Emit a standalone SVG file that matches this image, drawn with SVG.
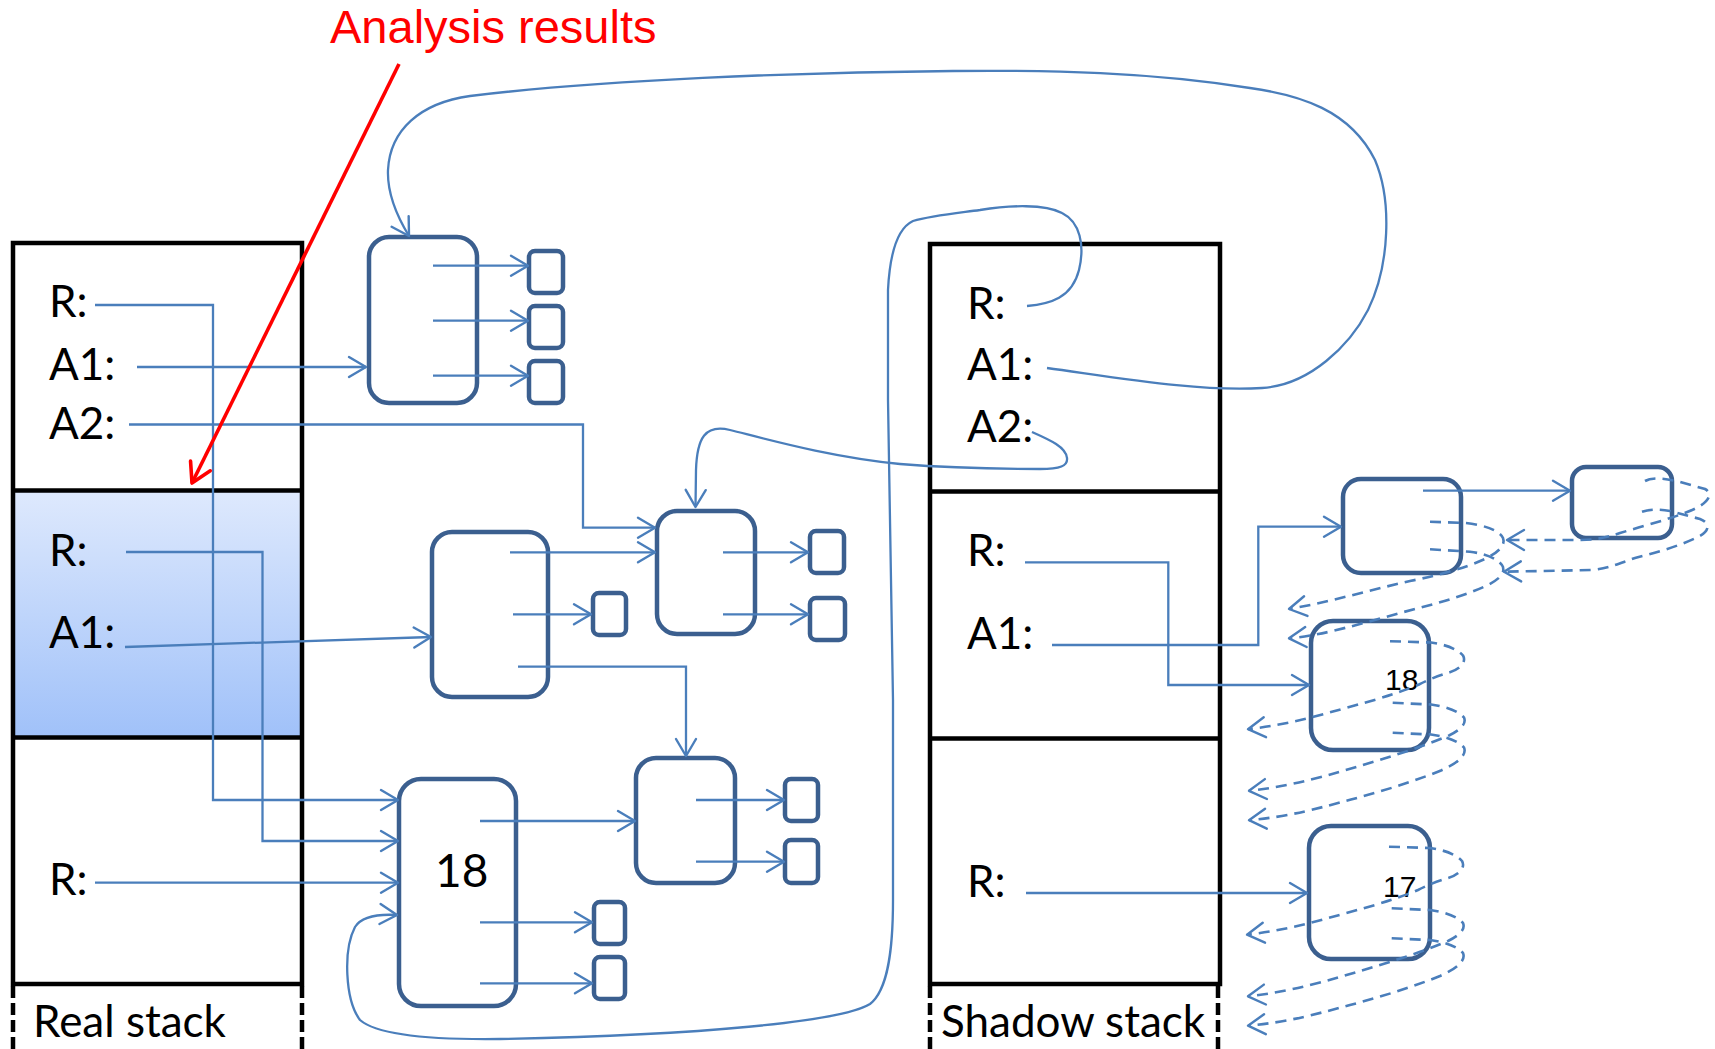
<svg xmlns="http://www.w3.org/2000/svg" width="1715" height="1049" viewBox="0 0 1715 1049">
  <defs>
    <style>
      .frame { fill: none; stroke: #000; stroke-width: 4.5; }
      .tag { fill: none; stroke: #000; stroke-width: 4.5; stroke-dasharray: 12 5; }
      .lbl { font-family: Lato, "Liberation Sans", sans-serif; font-size: 44px; fill: #000; }
      .num { font-family: "Liberation Sans", Arial, sans-serif; font-size: 30px; fill: #000; }
      .node rect { fill: #fff; stroke: #3B5F8F; stroke-width: 4.5; }
      .link { fill: none; stroke: #4A7EBB; stroke-width: 2.3; marker-end: url(#arr); }
      .curve { fill: none; stroke: #4A7EBB; stroke-width: 2.3; }
      .dash { fill: none; stroke: #4A7EBB; stroke-width: 2.6; stroke-dasharray: 11 7; marker-end: url(#arr); }
    </style>
    <linearGradient id="frameFill" x1="0" y1="0" x2="0" y2="1">
      <stop offset="0" stop-color="#DEE9FD"/>
      <stop offset="1" stop-color="#A0C1F9"/>
    </linearGradient>
    <marker id="arr" markerUnits="userSpaceOnUse" markerWidth="24" markerHeight="26" refX="19" refY="12" orient="auto">
      <path d="M2,2 L19,12 L2,22" fill="none" stroke="#4A7EBB" stroke-width="2.4" stroke-linecap="round" stroke-linejoin="round"/>
    </marker>
    <marker id="redArr" markerUnits="userSpaceOnUse" markerWidth="28" markerHeight="28" refX="23" refY="13" orient="auto">
      <path d="M4,2 L23,13 L4,24" fill="none" stroke="#FF0000" stroke-width="3.6" stroke-linecap="round" stroke-linejoin="round"/>
    </marker>
    <!-- three dashed back-pointer loops leaving a right-hand node -->
    <g id="loops">
      <path class="dash" d="M1389,846.7 L1430,848 C1445,850 1457,855 1462,861 C1466,868 1458,875 1448,878 C1438,881 1428,885 1418,890 C1390,902 1350,912 1310,923 C1290,928 1270,932 1247,934.7"/>
      <path class="dash" d="M1391.7,908.3 L1430,910 C1445,912 1458,917 1463,923 C1466,930 1458,936 1448,941 C1420,953 1390,962 1360,971 C1330,980 1290,992 1248,996.3"/>
      <path class="dash" d="M1391.7,938.3 L1430,940 C1445,942 1458,947 1463,953 C1466,960 1458,968 1440,976 C1410,988 1380,997 1350,1005 C1320,1013 1290,1022 1248,1025.7"/>
    </g>
  </defs>

  <rect width="1715" height="1049" fill="#fff"/>

  <!-- Real stack -->
  <g id="real-stack">
    <rect x="13" y="490.5" width="289" height="247" fill="url(#frameFill)"/>
    <rect class="frame" x="13" y="243" width="289" height="741"/>
    <line class="frame" x1="13" y1="490.5" x2="302" y2="490.5"/>
    <line class="frame" x1="13" y1="737.5" x2="302" y2="737.5"/>
    <line class="tag" x1="13" y1="986" x2="13" y2="1049"/>
    <line class="tag" x1="302" y1="986" x2="302" y2="1049"/>
    <text class="lbl" x="49" y="317">R:</text>
    <text class="lbl" x="49" y="380">A1:</text>
    <text class="lbl" x="49" y="439">A2:</text>
    <text class="lbl" x="49" y="566">R:</text>
    <text class="lbl" x="49" y="648">A1:</text>
    <text class="lbl" x="49" y="895">R:</text>
    <text class="lbl" x="33" y="1037">Real stack</text>
  </g>

  <!-- Shadow stack -->
  <g id="shadow-stack">
    <rect class="frame" x="930" y="244" width="290" height="740"/>
    <line class="frame" x1="930" y1="491.5" x2="1220" y2="491.5"/>
    <line class="frame" x1="930" y1="738.5" x2="1220" y2="738.5"/>
    <line class="tag" x1="930" y1="986" x2="930" y2="1049"/>
    <line class="tag" x1="1218" y1="986" x2="1218" y2="1049"/>
    <text class="lbl" x="967" y="319">R:</text>
    <text class="lbl" x="967" y="380">A1:</text>
    <text class="lbl" x="967" y="442">A2:</text>
    <text class="lbl" x="967" y="566">R:</text>
    <text class="lbl" x="967" y="649">A1:</text>
    <text class="lbl" x="967" y="897">R:</text>
    <text class="lbl" x="941" y="1037">Shadow stack</text>
  </g>

  <!-- heap objects -->
  <g id="obj1" class="node"><rect x="369" y="237" width="108" height="166" rx="20"/></g>
  <g id="obj1-f1" class="node"><rect x="529" y="251" width="34" height="42" rx="6"/></g>
  <g id="obj1-f2" class="node"><rect x="529" y="306" width="34" height="42" rx="6"/></g>
  <g id="obj1-f3" class="node"><rect x="529" y="361" width="34" height="42" rx="6"/></g>

  <g id="obj2" class="node"><rect x="432" y="532" width="116" height="165" rx="20"/></g>
  <g id="obj2-f" class="node"><rect x="593" y="593" width="33" height="42" rx="6"/></g>

  <g id="obj3" class="node"><rect x="657" y="511" width="98" height="123" rx="20"/></g>
  <g id="obj3-f1" class="node"><rect x="810" y="531" width="34" height="42" rx="6"/></g>
  <g id="obj3-f2" class="node"><rect x="810" y="598" width="35" height="42" rx="6"/></g>

  <g id="obj18" class="node">
    <rect x="399" y="779" width="117" height="227" rx="22"/>
    <text x="435" y="887" font-family="Lato, 'Liberation Sans', sans-serif" font-size="46" fill="#000">18</text>
  </g>
  <g id="obj18-f1" class="node"><rect x="594" y="902" width="31" height="42" rx="6"/></g>
  <g id="obj18-f2" class="node"><rect x="594" y="957" width="31" height="42" rx="6"/></g>

  <g id="obj4" class="node"><rect x="636" y="758" width="99" height="125" rx="20"/></g>
  <g id="obj4-f1" class="node"><rect x="785" y="779" width="33" height="42" rx="6"/></g>
  <g id="obj4-f2" class="node"><rect x="785" y="840" width="33" height="43" rx="6"/></g>

  <!-- shadow objects -->
  <g id="sh1" class="node"><rect x="1343" y="479" width="118" height="94" rx="18"/></g>
  <g id="sh2" class="node"><rect x="1572" y="467" width="100" height="71" rx="14"/></g>
  <g id="sh18" class="node">
    <rect x="1311" y="621" width="118" height="129" rx="22"/>
    <text class="num" x="1385" y="690">18</text>
  </g>
  <g id="sh17" class="node">
    <rect x="1309" y="826" width="121" height="133" rx="22"/>
    <text class="num" x="1383" y="897">17</text>
  </g>

  <!-- connectors -->
  <g id="connectors">
    <!-- real stack slots -->
    <path class="link" d="M95,305 H213 V800 H398"/>
    <path class="link" d="M137,367 H366"/>
    <path class="link" d="M129,424.5 H583 V527.7 H655"/>
    <path class="link" d="M126,552 H262.5 V841 H398"/>
    <path class="link" d="M125,647 L431,637"/>
    <path class="link" d="M95,882.7 H398"/>

    <!-- object fields -->
    <path class="link" d="M433,265.7 H528"/>
    <path class="link" d="M433,320.7 H528"/>
    <path class="link" d="M433,375.7 H528"/>
    <path class="link" d="M510,552.3 H655"/>
    <path class="link" d="M513,614.3 H591"/>
    <path class="link" d="M518,666.7 H686 V756"/>
    <path class="link" d="M723,552.3 H808"/>
    <path class="link" d="M723,614.3 H808"/>
    <path class="link" d="M480,821 H635"/>
    <path class="link" d="M480,922.3 H592"/>
    <path class="link" d="M480,983.3 H592"/>
    <path class="link" d="M696,800 H784"/>
    <path class="link" d="M696,861.7 H784"/>

    <!-- shadow stack slots -->
    <path class="link" d="M1047,368 C1120,378 1200,392 1262,388 C1310,385 1350,345 1368,310 C1390,265 1392,200 1375,160 C1350,110 1300,95 1250,88 C1150,72 1050,70 953,71 C800,72 600,80 470,96 C420,103 390,130 388,170 C387,195 398,218 409,236"/>
    <path class="link" d="M1027,306 C1050,304 1072,298 1079,270 C1085,245 1080,222 1062,213 C1045,204 1010,205 980,210 C950,214 930,216 913,221 C898,228 890,250 888,290 L888,400 L893,700 L893,900 C893,950 888,990 870,1004 C840,1022 700,1035 500,1039 C420,1040 375,1033 360,1020 C345,1000 343,950 355,927 C362,916 380,914 397,915"/>
    <path class="link" d="M1032,432 C1050,440 1066,447 1067,458 C1068,466 1060,469 1040,469 C1000,469 950,468 900,464 C830,457 770,440 730,430 C705,424 697,438 696,470 L695.5,507"/>
    <path class="link" d="M1025,562.3 H1168.3 V685 H1309"/>
    <path class="link" d="M1052,645 H1258.3 V526.7 H1341"/>
    <path class="link" d="M1026,893 H1307"/>

    <!-- shadow object fields -->
    <path class="link" d="M1423,490.7 H1570"/>
    <path class="dash" d="M1430,521.7 L1466,523 C1485,525 1500,531 1503,538 C1506,546 1497,553 1485,559 C1465,568 1440,575 1410,581 C1370,590 1330,602 1289,609"/>
    <path class="dash" d="M1430,549.3 L1470,551.7 C1488,554 1500,560 1503,567 C1505,575 1497,580 1488,585 C1460,598 1430,605 1400,613 C1360,624 1320,636 1289,638.3"/>
    <path class="dash" d="M1645,481 C1652,477 1665,478 1680,482 L1705,489 C1712,493 1710,500 1700,506 C1685,515 1650,524 1620,533 C1605,538 1595,540 1580,540 L1507,540"/>
    <path class="dash" d="M1642,511.7 C1650,509 1660,509 1670,511 L1700,519 C1710,523 1710,530 1700,536 C1680,546 1655,553 1635,558 C1620,563 1610,568 1593,570 L1504,571.7"/>
    <use href="#loops" transform="translate(1,-205.5)"/>
    <use href="#loops"/>
  </g>

  <!-- annotation -->
  <g id="annotation">
    <text x="330" y="43" font-family="'Liberation Sans', Arial, sans-serif" font-size="47" fill="#FF0000">Analysis results</text>
    <path d="M399,64 L192,483" fill="none" stroke="#FF0000" stroke-width="3.6" marker-end="url(#redArr)"/>
  </g>
</svg>
